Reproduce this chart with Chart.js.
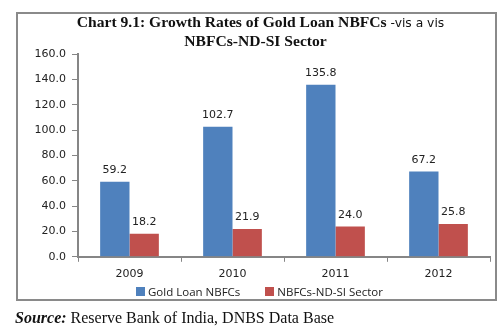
<!DOCTYPE html>
<html>
<head>
<meta charset="utf-8">
<script src="https://cdn.jsdelivr.net/npm/chart.js@4/dist/chart.umd.min.js"></script>
<style>
  html, body { margin: 0; padding: 0; background: #fff; }
  #wrap { position: relative; width: 503px; height: 334px; overflow: hidden; }
  #frame { position: absolute; left: 16px; top: 12px; width: 477px; height: 285px;
           border: 2px solid #8a8a8a; box-sizing: content-box; }
  #title { position: absolute; left: 20px; top: 13px; width: 481px; text-align: center;
           font-family: "Liberation Serif", "Times New Roman", serif; font-weight: bold;
           font-size: 15.6px; line-height: 17px; color: #111; }
  #title .sub { font-family: "DejaVu Sans", Verdana, sans-serif; font-weight: normal; font-size: 12.3px; }
  #title .l2 { position: relative; left: -5px; }
  #legend { position: absolute; left: 136px; top: 284px; display: flex; align-items: center;
            font-family: "Open Sans", "Noto Sans", sans-serif; font-size: 11.5px; color: #222; }
  #legend .sw { display: inline-block; width: 9px; height: 9px; margin-right: 3px; }
  #legend .item { display: flex; align-items: center; margin-right: 25px; }
  #source { position: absolute; left: 15px; top: 309px; font-family: "Liberation Serif", "Times New Roman", serif;
            font-size: 16px; color: #111; }
  #source b { font-style: italic; }
  canvas { position: absolute; left: 0; top: 0; }
</style>
</head>
<body>
<div id="wrap">
  <div id="frame"></div>
  <canvas id="c" width="503" height="334"></canvas>
  <div id="title">Chart 9.1: Growth Rates of Gold Loan NBFCs <span class="sub">-vis a vis</span><br><span class="l2">NBFCs-ND-SI Sector</span></div>
  <div id="legend"></div>
  <div id="source"><b>Source:</b> Reserve Bank of India, DNBS Data Base</div>
</div>
<script>
const years = ["2009", "2010", "2011", "2012"];
const goldLoan = [59.2, 102.7, 135.8, 67.2];
const ndsiSector = [18.2, 21.9, 24.0, 25.8];
const yTicks = [0, 20, 40, 60, 80, 100, 120, 140, 160];

// Prints each bar's value just above its top
const valueLabels = {
  id: 'valueLabels',
  afterDatasetsDraw(chart) {
    const ctx = chart.ctx;
    ctx.save();
    ctx.font = '11px "DejaVu Sans", Verdana, sans-serif';
    ctx.fillStyle = '#222';
    ctx.textAlign = 'center';
    ctx.textBaseline = 'bottom';
    chart.data.datasets.forEach((ds, i) => {
      chart.getDatasetMeta(i).data.forEach((bar, j) => {
        ctx.fillText(ds.data[j].toFixed(1), bar.x, bar.y - 6);
      });
    });
    ctx.restore();
  }
};

const chart = new Chart(document.getElementById('c'), {
  type: 'bar',
  data: {
    labels: years,
    datasets: [
      { label: 'Gold Loan NBFCs', data: goldLoan, backgroundColor: '#4F81BD', borderWidth: 0 },
      { label: 'NBFCs-ND-SI Sector', data: ndsiSector, backgroundColor: '#C0504D', borderWidth: 0 }
    ]
  },
  plugins: [valueLabels],
  options: {
    responsive: false,
    animation: false,
    layout: { padding: { left: 20, right: 13, top: 54, bottom: 47 } },
    datasets: { bar: { categoryPercentage: 0.57, barPercentage: 1.0 } },
    plugins: {
      legend: { display: false },
      tooltip: { enabled: false }
    },
    scales: {
      x: {
        grid: { display: true, drawOnChartArea: false, offset: true, color: '#868686', tickLength: 5 },
        border: { color: '#868686', width: 2 },
        ticks: { color: '#222', font: { family: '"DejaVu Sans", Verdana, sans-serif', size: 11 }, padding: 6 }
      },
      y: {
        min: 0, max: 160,
        afterBuildTicks(axis) { axis.ticks = yTicks.map(v => ({ value: v })); },
        afterFit(axis) { axis.width = 58; },
        grid: { display: true, drawOnChartArea: false, color: '#868686', tickLength: 6 },
        border: { color: '#868686', width: 2 },
        ticks: {
          color: '#222', padding: 6,
          font: { family: '"DejaVu Sans", Verdana, sans-serif', size: 11 },
          callback: v => Number(v).toFixed(1)
        }
      }
    }
  }
});

// Legend built from the chart's own datasets
const legend = document.getElementById('legend');
chart.data.datasets.forEach(ds => {
  const item = document.createElement('span');
  item.className = 'item';
  const sw = document.createElement('span');
  sw.className = 'sw';
  sw.style.background = ds.backgroundColor;
  item.appendChild(sw);
  item.appendChild(document.createTextNode(ds.label));
  legend.appendChild(item);
});
</script>
</body>
</html>
